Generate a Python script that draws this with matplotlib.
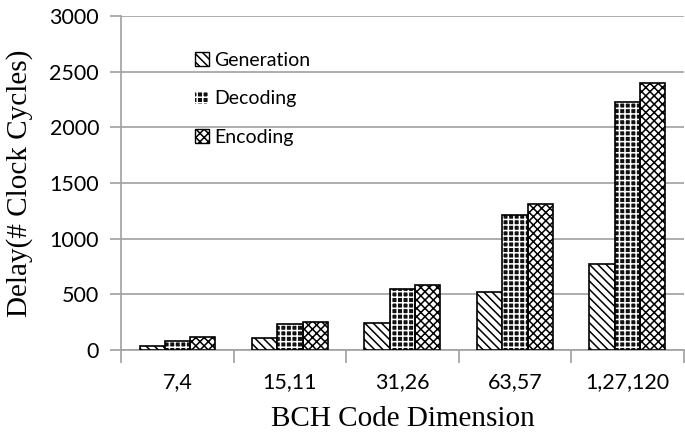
import matplotlib.pyplot as plt
from matplotlib.patches import Rectangle
import numpy as np

# Dane
categories = ["7,4", "15,11", "31,26", "63,57", "1,27,120"]
series_names = ["Generation", "Decoding", "Encoding"]
generation = [38, 105, 240, 518, 770]
decoding = [80, 234, 550, 1213, 2231]
encoding = [120, 255, 585, 1315, 2396]
y_ticks = [0, 500, 1000, 1500, 2000, 2500, 3000]

plt.rcParams['hatch.linewidth'] = 1.1
sans = ['Lato', 'DejaVu Sans']
serif = ['Liberation Serif', 'DejaVu Serif']

fig = plt.figure(figsize=(6.85, 4.42), dpi=100)
ax = fig.add_axes([0.177, 0.208, 0.821, 0.756])

x = np.arange(len(categories))
w = 0.225
grid_c = '#a0a0a0'

gen_style = dict(facecolor='white', edgecolor='black', hatch='\\\\\\\\')
dec_style = dict(facecolor='#111111', edgecolor='white', hatch='+++')
enc_style = dict(facecolor='white', edgecolor='black', hatch='xxxx')

ax.bar(x - w, generation, w, linewidth=1.2, zorder=3, **gen_style)
# Decoding: ciemne tło z jasną siatką
ax.bar(x, decoding, w, linewidth=0, zorder=3, **dec_style)
ax.bar(x, decoding, w, facecolor='none', edgecolor='black',
       linewidth=1.2, zorder=4)
ax.bar(x + w, encoding, w, linewidth=1.2, zorder=3, **enc_style)

ax.set_ylim(0, 3000)
ax.set_xlim(-0.5, len(categories) - 0.5)
ax.set_yticks(y_ticks)
ax.set_yticklabels([str(v) for v in y_ticks], family=sans, fontsize=15.5)
ax.yaxis.grid(True, color=grid_c, linewidth=1.2, zorder=0)
ax.set_axisbelow(True)

# Podziałki osi X między kategoriami
ax.set_xticks(np.arange(len(categories) + 1) - 0.5)
ax.set_xticklabels([])
ax.set_xticks(x, minor=True)
ax.set_xticklabels(categories, minor=True, family=sans, fontsize=15.5)
ax.tick_params(axis='x', which='major', length=9, color=grid_c, width=1.2)
ax.tick_params(axis='x', which='minor', length=0, pad=16)
ax.tick_params(axis='y', length=8, color=grid_c, width=1.2, pad=8)

for s in ['top', 'right']:
    ax.spines[s].set_visible(False)
for s in ['left', 'bottom']:
    ax.spines[s].set_color(grid_c)
    ax.spines[s].set_linewidth(1.2)

ax.set_ylabel("Delay(# Clock Cycles)", family=serif, fontsize=21, labelpad=12)
ax.set_xlabel("BCH Code Dimension", family=serif, fontsize=21, labelpad=10)

handles = [Rectangle((0, 0), 1, 1, linewidth=1, **gen_style),
           Rectangle((0, 0), 1, 1, linewidth=0, **dec_style),
           Rectangle((0, 0), 1, 1, linewidth=1, **enc_style)]
ax.legend(handles=handles, labels=series_names,
          loc='upper left', bbox_to_anchor=(0.1, 0.945), frameon=False,
          prop={'family': sans, 'size': 14}, handlelength=0.7,
          handleheight=0.7, labelspacing=1.1, handletextpad=0.3)

fig.savefig("out.png", dpi=100)
